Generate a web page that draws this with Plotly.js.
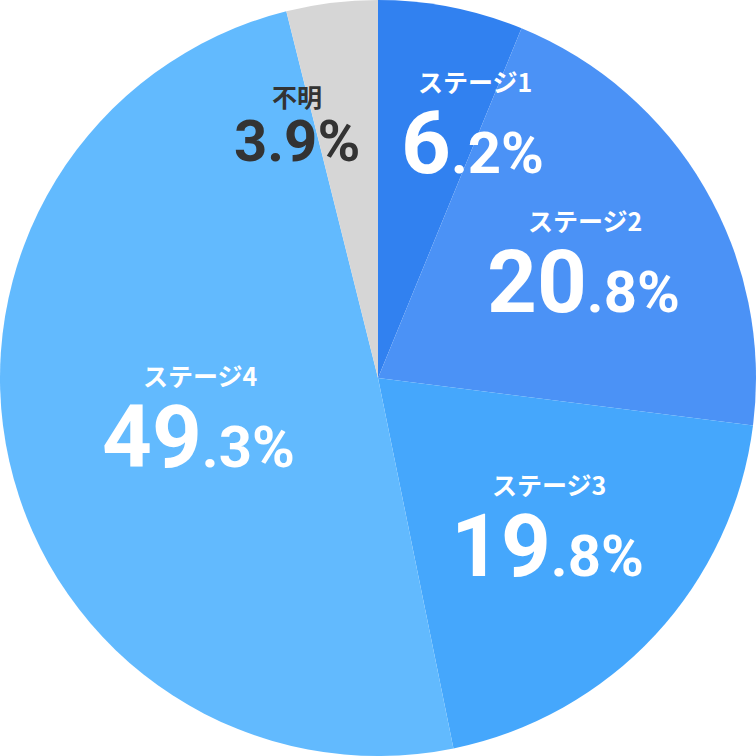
<!DOCTYPE html>
<html><head><meta charset="utf-8">
<script src="https://cdn.plot.ly/plotly-3.0.1.min.js"></script>
<style>html,body{margin:0;padding:0;background:#fff;}#chart{width:756px;height:756px;}</style>
</head><body><div id="chart"></div>
<script>
const categories = ["ステージ1", "ステージ2", "ステージ3", "ステージ4", "不明"];
const values = [6.2, 20.8, 19.8, 49.3, 3.9];
const colors = ["#3181f0", "#4b92f6", "#45a7fc", "#62bafe", "#d6d6d6"];
const textColors = ["#ffffff", "#ffffff", "#ffffff", "#ffffff", "#333333"];
// label placement (layout): radius fraction and angular nudge in degrees
const labelRadius = [0.670, 0.600, 0.632, 0.499, 0.664];
const labelNudge = [10.8, 5.2, 2.0, -5.4, -11.9];

const total = values.reduce((a, b) => a + b, 0);
const annotations = [];
let cum = 0;
values.forEach((v, i) => {
  const mid = (cum + v / 2) / total * 360 + labelNudge[i];
  cum += v;
  const rad = mid * Math.PI / 180;
  const x = 0.5 + 0.5 * labelRadius[i] * Math.sin(rad);
  const y = 0.5 + 0.5 * labelRadius[i] * Math.cos(rad);
  const s = v.toFixed(1);
  const parts = s.split(".");
  const isSmall = i === 4;
  const numText = isSmall
    ? "<b>" + s + "%</b>"
    : "<b>" + parts[0] + "<span style='font-size:58px'>." + parts[1] + "%</span></b>";
  annotations.push({
    xref: "paper", yref: "paper", x: x, y: y, showarrow: false,
    text: numText, xanchor: "center", yanchor: "middle",
    font: {family: "Roboto, sans-serif", size: isSmall ? 58 : 87, color: textColors[i]}
  });
  annotations.push({
    xref: "paper", yref: "paper", x: x, y: y, showarrow: false,
    text: "<b>" + categories[i] + "</b>", xanchor: "center", yanchor: "middle",
    yshift: isSmall ? 45 : 62, xshift: isSmall ? 0 : 2,
    font: {family: "'Noto Sans CJK JP', sans-serif", size: 25, color: textColors[i]}
  });
});

Plotly.newPlot("chart", [{
  type: "pie",
  labels: categories,
  values: values,
  sort: false,
  direction: "clockwise",
  rotation: 0,
  marker: {colors: colors, line: {width: 0}},
  textinfo: "none",
  hoverinfo: "none",
  domain: {x: [0, 1], y: [0, 1]}
}], {
  width: 756, height: 756,
  margin: {l: 0, r: 0, t: 0, b: 0},
  showlegend: false,
  paper_bgcolor: "#ffffff",
  annotations: annotations
}, {displayModeBar: false, staticPlot: true});
</script>
</body></html>
